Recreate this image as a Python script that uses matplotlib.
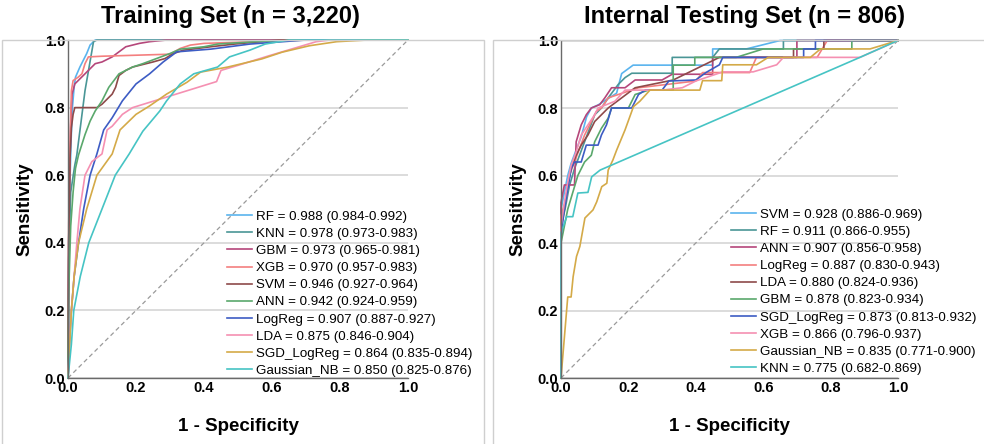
import matplotlib
matplotlib.use("Agg")
import matplotlib.pyplot as plt
from matplotlib.patches import Rectangle

plt.rcParams['font.family'] = ['Liberation Sans', 'DejaVu Sans']

# colours by rank in each legend
colors = ['#5ab4ee', '#4a9696', '#b5467a', '#f47f7f', '#8e4a4a',
          '#5aa86c', '#3d5cc4', '#f590b2', '#d4aa48', '#46c4c4']

# ---------------- training set ----------------
train_labels = [
    'RF = 0.988 (0.984-0.992)',
    'KNN = 0.978 (0.973-0.983)',
    'GBM = 0.973 (0.965-0.981)',
    'XGB = 0.970 (0.957-0.983)',
    'SVM = 0.946 (0.927-0.964)',
    'ANN = 0.942 (0.924-0.959)',
    'LogReg = 0.907 (0.887-0.927)',
    'LDA = 0.875 (0.846-0.904)',
    'SGD_LogReg = 0.864 (0.835-0.894)',
    'Gaussian_NB = 0.850 (0.825-0.876)',
]

tr_rf_fpr = [0, .002, .005, .009, .013, .018, .022, .035, .045, .055, .065, .08, 1]
tr_rf_tpr = [0, .30, .55, .70, .80, .86, .89, .92, .94, .96, .985, 1, 1]

tr_knn_fpr = [0, .002, .008, .02, .026, .05, .075, .085, 1]
tr_knn_tpr = [0, .35, .55, .63, .66, .85, .995, 1, 1]

tr_gbm_fpr = [0, .002, .005, .008, .012, .02, .04, .06, .08, .10, .13, .15, .17, .21, .24, .29, 1]
tr_gbm_tpr = [0, .40, .60, .75, .84, .87, .89, .91, .93, .935, .95, .965, .98, .99, .995, 1, 1]

tr_xgb_fpr = [0, .002, .006, .01, .015, .03, .041, .05, .06, .10, .20, .30, .33, .36, .40, .55, .70, 1]
tr_xgb_tpr = [0, .45, .70, .85, .88, .89, .90, .93, .95, .952, .955, .958, .975, .985, .99, .995, 1, 1]

tr_svm_fpr = [0, .002, .006, .01, .015, .02, .085, .10, .11, .13, .14, .15, .17, .19, .25, .285, .31, .34, .42, .49, .62, 1]
tr_svm_tpr = [0, .40, .65, .74, .78, .80, .80, .81, .82, .84, .86, .895, .91, .92, .935, .945, .96, .97, .98, .988, 1, 1]

tr_ann_fpr = [0, .002, .008, .015, .022, .031, .05, .065, .08, .10, .12, .15, .19, .22, .26, .30, .33, .40, .44, .55, .70, 1]
tr_ann_tpr = [0, .25, .45, .55, .62, .66, .72, .76, .79, .82, .86, .90, .92, .93, .945, .96, .973, .98, .988, .995, 1, 1]

tr_lr_fpr = [0, .004, .01, .018, .031, .046, .065, .085, .105, .13, .16, .20, .24, .28, .32, .42, .535, .70, 1]
tr_lr_tpr = [0, .10, .20, .30, .40, .50, .60, .663, .734, .77, .82, .87, .90, .935, .965, .973, .988, 1, 1]

tr_lda_fpr = [0, .004, .01, .018, .026, .035, .05, .07, .10, .115, .13, .16, .19, .437, .45, .50, .59, .68, .73, .77, 1]
tr_lda_tpr = [0, .10, .20, .30, .40, .50, .60, .64, .663, .734, .745, .78, .80, .877, .91, .925, .953, .98, .995, 1, 1]

tr_sgd_fpr = [0, .005, .01, .018, .031, .055, .085, .13, .153, .20, .24, .29, .35, .39, .47, .57, .63, .71, .79, .88, 1]
tr_sgd_tpr = [0, .10, .20, .30, .40, .50, .60, .663, .734, .78, .805, .84, .875, .905, .92, .944, .964, .983, .995, 1, 1]

tr_nb_fpr = [0, .01, .017, .036, .061, .10, .139, .18, .22, .27, .29, .33, .37, .44, .475, .535, .58, .65, 1]
tr_nb_tpr = [0, .10, .20, .30, .40, .50, .60, .663, .73, .79, .82, .87, .90, .92, .95, .97, .988, 1, 1]

train_fpr = [tr_rf_fpr, tr_knn_fpr, tr_gbm_fpr, tr_xgb_fpr, tr_svm_fpr,
             tr_ann_fpr, tr_lr_fpr, tr_lda_fpr, tr_sgd_fpr, tr_nb_fpr]
train_tpr = [tr_rf_tpr, tr_knn_tpr, tr_gbm_tpr, tr_xgb_tpr, tr_svm_tpr,
             tr_ann_tpr, tr_lr_tpr, tr_lda_tpr, tr_sgd_tpr, tr_nb_tpr]

# ---------------- internal testing set ----------------
test_labels = [
    'SVM = 0.928 (0.886-0.969)',
    'RF = 0.911 (0.866-0.955)',
    'ANN = 0.907 (0.856-0.958)',
    'LogReg = 0.887 (0.830-0.943)',
    'LDA = 0.880 (0.824-0.936)',
    'GBM = 0.878 (0.823-0.934)',
    'SGD_LogReg = 0.873 (0.813-0.932)',
    'XGB = 0.866 (0.796-0.937)',
    'Gaussian_NB = 0.835 (0.771-0.900)',
    'KNN = 0.775 (0.682-0.869)',
]

te_svm_fpr = [0, 0, .01, .02, .03, .06, .076, .09, .11, .165, .18, .214, .45, .45, .55, .65, 1]
te_svm_tpr = [0, .50, .55, .60, .636, .715, .774, .80, .809, .844, .902, .927, .927, .975, .975, 1, 1]

te_rf_fpr = [0, 0, .012, .025, .04, .055, .07, .085, .10, .12, .14, .17, .19, .21, .33, .33, .45, .47, .66, .66, 1]
te_rf_tpr = [0, .45, .50, .57, .62, .66, .70, .74, .78, .80, .83, .87, .89, .903, .903, .95, .95, .975, .975, 1, 1]

te_ann_fpr = [0, 0, .01, .04, .045, .06, .075, .09, .115, .13, .15, .19, .22, .30, .33, .45, .45, .70, .70, 1]
te_ann_tpr = [0, .52, .572, .572, .70, .75, .78, .80, .81, .83, .86, .86, .883, .883, .90, .90, .95, .95, 1, 1]

te_lr_fpr = [0, 0, .015, .025, .04, .055, .07, .09, .105, .12, .14, .17, .20, .23, .40, .42, .56, .58, .76, .79, 1]
te_lr_tpr = [0, .48, .53, .60, .64, .68, .72, .76, .79, .80, .83, .84, .85, .86, .88, .905, .905, .95, .95, 1, 1]

te_lda_fpr = [0, 0, .01, .02, .03, .045, .06, .08, .10, .12, .14, .22, .333, .47, .69, .69, .78, .78, 1]
te_lda_tpr = [0, .45, .50, .57, .62, .66, .69, .72, .76, .78, .80, .86, .883, .95, .95, .975, .975, 1, 1]

te_gbm_fpr = [0, 0, .01, .02, .035, .05, .07, .09, .10, .12, .14, .15, .20, .22, .26, .333, .333, .397, .397, .52, .60, .863, .863, 1]
te_gbm_tpr = [0, .40, .45, .50, .55, .60, .64, .66, .70, .74, .77, .80, .80, .84, .853, .853, .927, .927, .95, .95, .975, .975, 1, 1]

te_sgd_fpr = [0, 0, .01, .02, .03, .04, .06, .075, .11, .12, .135, .15, .21, .23, .25, .30, .32, .40, .43, .47, .48, .72, .72, .755, .755, 1]
te_sgd_tpr = [0, .42, .50, .56, .62, .64, .64, .69, .69, .72, .75, .80, .80, .84, .853, .853, .88, .883, .905, .928, .95, .95, .975, .975, 1, 1]

te_xgb_fpr = [0, 0, .01, .02, .03, .045, .06, .08, .10, .11, .16, .19, .30, .36, .40, .48, .57, .64, .66, .887, 1]
te_xgb_tpr = [0, .45, .52, .58, .63, .67, .72, .75, .78, .80, .82, .853, .853, .86, .88, .907, .907, .928, .95, .95, 1]

te_nb_fpr = [0, .02, .03, .036, .046, .056, .071, .095, .106, .121, .136, .14, .154, .165, .19, .215, .234, .264,
             .412, .42, .477, .48, .58, .615, .74, .77, .917, 1]
te_nb_tpr = [0, .24, .24, .30, .36, .39, .474, .498, .522, .567, .577, .616, .646, .675, .735, .804, .82, .853,
             .853, .881, .881, .928, .928, .95, .95, .975, .975, 1]

te_knn_fpr = [0, 0, .017, .035, .05, .08, .091, .116, .887, 1]
te_knn_tpr = [0, .43, .478, .478, .548, .55, .596, .616, .95, 1]

test_fpr = [te_svm_fpr, te_rf_fpr, te_ann_fpr, te_lr_fpr, te_lda_fpr,
            te_gbm_fpr, te_sgd_fpr, te_xgb_fpr, te_nb_fpr, te_knn_fpr]
test_tpr = [te_svm_tpr, te_rf_tpr, te_ann_tpr, te_lr_tpr, te_lda_tpr,
            te_gbm_tpr, te_sgd_tpr, te_xgb_tpr, te_nb_tpr, te_knn_tpr]

ticks = [0.0, 0.2, 0.4, 0.6, 0.8, 1.0]

fig = plt.figure(figsize=(9.84, 4.44), dpi=100)

# panel frames
fig.patches.append(Rectangle((2 / 984, -0.05), 482 / 984, 1.005 - 20 / 444,
                             transform=fig.transFigure, fill=False,
                             edgecolor='#cfcfcf', lw=1.0))
fig.patches.append(Rectangle((493 / 984, -0.05), 0.6, 1.005 - 20 / 444,
                             transform=fig.transFigure, fill=False,
                             edgecolor='#cfcfcf', lw=1.0))

ax1 = fig.add_axes([68 / 984, 1 - 378 / 444, 340 / 984, 338 / 444])
ax2 = fig.add_axes([561 / 984, 1 - 378 / 444, 337 / 984, 337.5 / 444])


def draw_panel(ax, fprs, tprs, labels, title, title_x, leg_anchor):
    ax.set_xlim(0, 1)
    ax.set_ylim(0, 1)
    ax.set_yticks(ticks)
    ax.set_xticks(ticks)
    ax.yaxis.grid(True, color='#d2d2d2', lw=1.1)
    ax.set_axisbelow(True)
    for s in ['top', 'right']:
        ax.spines[s].set_visible(False)
    for s in ['left', 'bottom']:
        ax.spines[s].set_color('#6a6a6a')
        ax.spines[s].set_linewidth(1.0)
    ax.tick_params(length=0, pad=2, labelsize=10.5)
    for t in ax.get_xticklabels() + ax.get_yticklabels():
        t.set_fontweight('bold')
    ax.plot([0, 1], [0, 1], color='#9a9a9a', lw=0.9, ls=(0, (3.5, 2.5)))
    handles = []
    for i in range(len(fprs)):
        h, = ax.plot(fprs[i], tprs[i], color=colors[i], lw=1.2,
                     label=labels[i], clip_on=False)
        handles.append(h)
    ax.legend(handles=handles, loc='lower left', bbox_to_anchor=leg_anchor,
              bbox_transform=fig.transFigure, frameon=False, fontsize=9.6,
              handlelength=1.9, handletextpad=0.25, labelspacing=0.36,
              borderaxespad=0, borderpad=0)
    ax.set_xlabel('1 - Specificity', fontsize=13.5, fontweight='bold', labelpad=17)
    ax.set_ylabel('Sensitivity', fontsize=13.5, fontweight='bold', labelpad=8)
    fig.text(title_x, 1 - 17 / 444, title, ha='center', va='center',
             fontsize=17, fontweight='bold')


draw_panel(ax1, train_fpr, train_tpr, train_labels,
           'Training Set (n = 3,220)', 230 / 984, (227 / 984, 1 - 377 / 444))
draw_panel(ax2, test_fpr, test_tpr, test_labels,
           'Internal Testing Set (n = 806)', 745 / 984, (731 / 984, 1 - 375 / 444))

plt.savefig('out.png', dpi=100)
